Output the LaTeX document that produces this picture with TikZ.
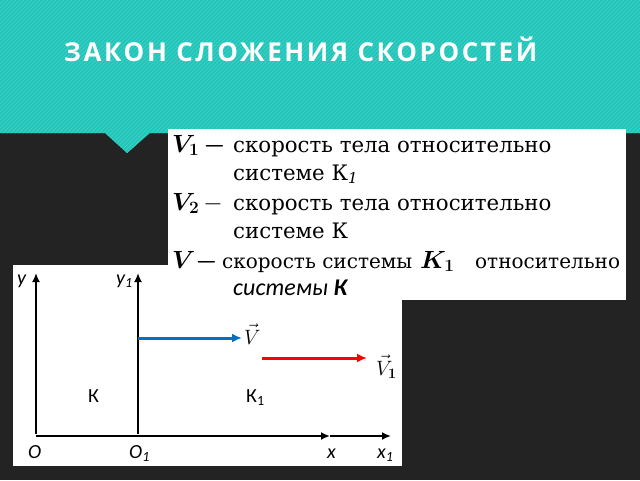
\documentclass[tikz,border=0pt]{standalone}
\usepackage{fontspec}
\usepackage{amsmath}
\setmainfont{DejaVu Serif}
\newfontfamily\titlefont[LetterSpace=10]{Open Sans}
\newfontfamily\calfont{Carlito}
\usetikzlibrary{arrows.meta}
\definecolor{bgdark}{HTML}{232323}
\definecolor{teal1}{HTML}{1CC3B6}
\definecolor{teal2}{HTML}{3ACFC3}
\definecolor{vblue}{HTML}{0070C0}
\definecolor{vred}{HTML}{FF0000}
\newcommand{\mymathbig}[1]{{\fontsize{25}{28}\selectfont$#1$}}
\tikzset{
  txt/.style={anchor=base west, inner sep=0pt, font=\fontsize{21.3}{26}\selectfont},
  lbl/.style={anchor=base west, inner sep=0pt, font=\calfont\fontsize{20}{24}\selectfont},
  ilbl/.style={anchor=base west, inner sep=0pt, font=\calfont\itshape\fontsize{20}{24}\selectfont},
  axis/.style={line width=2pt, -{Latex[length=9pt,width=8pt]}},
  vec/.style={line width=3pt, -{Latex[length=10pt,width=9pt]}}
}
\begin{document}
\begin{tikzpicture}[x=1pt,y=-1pt]
\useasboundingbox (0,0) rectangle (640,480);
\fill[bgdark] (0,0) rectangle (640,480);
% teal band with notch
\begin{scope}
\clip (0,0) -- (640,0) -- (640,133) -- (150,133) -- (127,153) -- (105,133) -- (0,133) -- cycle;
\fill[teal1] (0,0) rectangle (640,160);
\foreach \i in {0,4,...,800} {
  \draw[teal2, line width=1.2pt] (\i,0) -- (\i-160,160);
}
\end{scope}
\node[anchor=base west, inner sep=0pt, text=white, font=\titlefont\bfseries\fontsize{26}{30}\selectfont] (title) at (64,61) {ЗАКОН СЛОЖЕНИЯ СКОРОСТЕЙ};
% boxes
\fill[white] (168,129) rectangle (626,300);
\fill[white] (13,265) rectangle (402,466);
% text
\node[txt] (l1) at (172,152) {\makebox[61pt][l]{\mymathbig{\boldsymbol{V_1}\,\boldsymbol{-}}}скорость тела относительно};
\node[txt] (l2) at (233,180) {системе К\textsubscript{\textit{1}}};
\node[txt] (l3) at (172,210) {\makebox[61pt][l]{\mymathbig{\boldsymbol{V_2}\,-}}скорость тела относительно};
\node[txt] (l4) at (233,238) {системе К};
\node[txt, font=\fontsize{20}{24}\selectfont] (l5) at (172,268) {\makebox[50pt][l]{\mymathbig{\boldsymbol{V}\boldsymbol{-}}}\makebox[198pt][l]{скорость системы}\makebox[55pt][l]{\mymathbig{\boldsymbol{K_1}}}относительно};
\node[txt, font=\calfont\itshape\fontsize{24}{28}\selectfont] (l6) at (233,295) {системы \textbf{К}};
% axes
\coordinate (O) at (36,436);
\coordinate (Ytop) at (36,273);
\coordinate (O1) at (138,436);
\coordinate (Y1top) at (138,273);
\coordinate (Xa) at (330,436);
\coordinate (Xb) at (391,436);
\draw[axis] (36,434) -- (Ytop);
\draw[axis] (138,434) -- (Y1top);
\draw[axis] (O) -- (Xa);
\draw[axis] (Xa) -- (Xb);
% labels
\node[ilbl] (ly) at (17,284) {y};
\node[ilbl] (ly1) at (116,284) {y\textsubscript{1}};
\node[ilbl] (lo) at (28,458) {O};
\node[ilbl] (lo1) at (129,458) {O\textsubscript{1}};
\node[ilbl] (lx) at (327,458) {x};
\node[ilbl] (lx1) at (377,458) {x\textsubscript{1}};
\node[lbl] (lk) at (88,402) {К};
\node[lbl] (lk1) at (246,402) {К\textsubscript{1}};
% velocity arrows
\coordinate (B0) at (138,338);
\coordinate (B1) at (242,338);
\coordinate (R0) at (262,358);
\coordinate (R1) at (367,358);
\draw[vec, vblue] (B0) -- (B1);
\draw[vec, vred] (R0) -- (R1);
\node[anchor=base west, inner sep=0pt, font=\fontsize{21}{24}\selectfont] (lv) at (244,344) {$\vec{V}$};
\node[anchor=base west, inner sep=0pt, font=\fontsize{21}{24}\selectfont] (lv1) at (376,375) {$\vec{V}_{\boldsymbol{1}}$};
\end{tikzpicture}
\end{document}
